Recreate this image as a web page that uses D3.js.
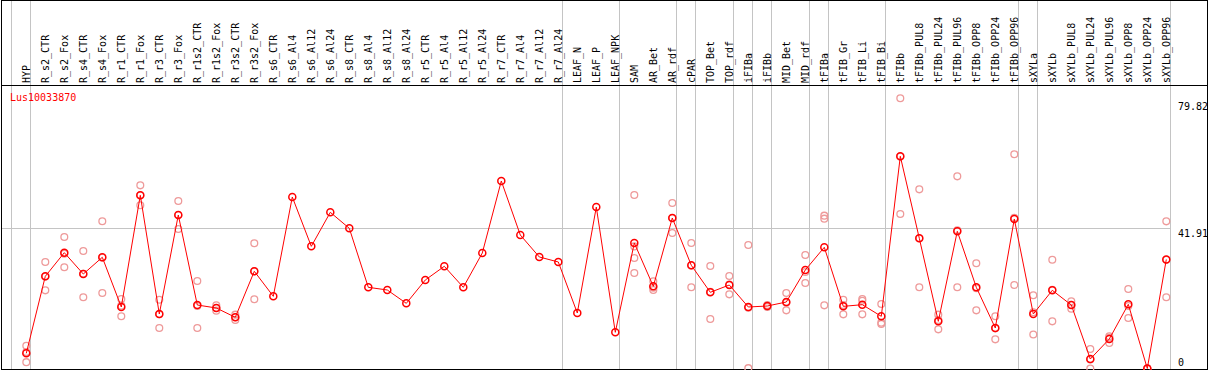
<!DOCTYPE html>
<html lang="en">
<head>
  <meta charset="UTF-8">
  <title>Lus10033870</title>
  <script src="https://cdn.jsdelivr.net/npm/d3@7/dist/d3.min.js"></script>
  <style>
    body { margin: 0; background: #fff; }
    text { font-family: "DejaVu Sans Mono", monospace; font-size: 10px; }
  </style>
</head>
<body>
  <svg></svg>
  <script>
    const width = 1209;
    const height = 370;

    const gene = "Lus10033870";

    const samples = [
      "HYP", "R_s2_CTR", "R_s2_Fox", "R_s4_CTR", "R_s4_Fox", "R_r1_CTR", "R_r1_Fox",
      "R_r3_CTR", "R_r3_Fox", "R_r1s2_CTR", "R_r1s2_Fox", "R_r3s2_CTR", "R_r3s2_Fox",
      "R_s6_CTR", "R_s6_Al4", "R_s6_Al12", "R_s6_Al24", "R_s8_CTR", "R_s8_Al4", "R_s8_Al12",
      "R_s8_Al24", "R_r5_CTR", "R_r5_Al4", "R_r5_Al12", "R_r5_Al24", "R_r7_CTR", "R_r7_Al4",
      "R_r7_Al12", "R_r7_Al24", "LEAF_N", "LEAF_P", "LEAF_NPK", "SAM", "AR_Bet", "AR_rdf",
      "cPAR", "TOP_Bet", "TOP_rdf", "iFIBa", "iFIBb", "MID_Bet", "MID_rdf", "tFIBa",
      "tFIB_Gr", "tFIB_Li", "tFIB_Bi", "tFIBb", "tFIBb_PUL8", "tFIBb_PUL24", "tFIBb_PUL96",
      "tFIBb_OPP8", "tFIBb_OPP24", "tFIBb_OPP96", "sXYLa", "sXYLb", "sXYLb_PUL8",
      "sXYLb_PUL24", "sXYLb_PUL96", "sXYLb_OPP8", "sXYLb_OPP24", "sXYLb_OPP96"
    ];

    // how many samples sit between two grey separators
    const groupSizes = [1, 28, 3, 3, 1, 2, 1, 1, 2, 1, 3, 7, 1, 7];

    const means = [
      4.54, 27.56, 34.63, 28.25, 33.24, 18.39, 51.77, 16.29, 45.89, 18.98, 18.09, 15.3, 29.06,
      21.58, 51.27, 36.52, 46.69, 41.91, 24.27, 23.47, 19.48, 26.46, 30.55, 24.27, 34.53,
      56.05, 39.91, 33.34, 31.84, 16.59, 48.27, 10.82, 37.52, 24.57, 44.99, 30.85, 22.78,
      24.96, 18.39, 18.68, 19.88, 29.45, 36.23, 18.58, 19.08, 15.6, 63.44, 38.92, 14.1,
      41.02, 24.27, 12.11, 44.69, 16.29, 23.37, 18.98, 2.84, 8.82, 19.18, 0, 32.6
    ];

    const replicates = [
      [6.8, 4.9, 1.9], [31.84, 27.47, 23.37], [39.31, 34.33, 30.25], [35.13, 28.34, 21.28],
      [44.0, 33.15, 22.57], [20.78, 18.79, 15.6], [54.75, 51.77, 48.79], [20.57, 16.2, 12.11],
      [50.08, 45.9, 41.7], [26.16, 18.67, 12.11], [18.9, 18.1, 17.3], [16.1, 15.3, 14.5],
      [37.43, 29.06, 20.69],
      [], [], [], [], [], [], [], [], [], [], [], [], [], [], [], [], [], [], [],
      [51.87, 36.5, 33.04, 28.55], [26.07, 24.17, 23.47], [49.48, 45.0, 40.51],
      [37.52, 30.76, 24.27], [30.65, 22.9, 14.8], [27.65, 25.06, 22.17], [36.92, 18.15, 0.1],
      [19.0, 18.4, 18.6], [22.57, 19.68, 17.39], [33.93, 28.86, 25.56], [45.69, 44.8, 18.88],
      [20.57, 19.0, 16.19], [20.78, 20.27, 16.19], [19.28, 13.7, 13.3], [80.78, 63.35, 46.19],
      [53.56, 38.93, 24.27], [16.1, 14.5, 11.7], [57.45, 41.3, 24.27], [31.45, 23.97, 17.39],
      [15.6, 12.0, 8.72], [64.07, 45.04, 24.96], [21.88, 16.83, 10.16], [32.49, 23.52, 14.1],
      [20.08, 19.0, 17.88], [5.83, 2.7, 0], [9.62, 9.2, 7.62], [23.77, 18.7, 15.1],
      [0, 0, 0], [43.99, 32.5, 21.28]
    ];

    const yTicks = [0, 41.91, 79.82];

    const headerBottom = 85.5;
    const plotRight = 1170.5;

    const x = d3.scaleBand()
      .domain(samples)
      .range([11.5, 11.5 + samples.length * 19])
      .paddingInner(0);
    const pointX = d => x(d) + 14.8;

    const y = d3.scaleLinear()
      .domain([0, 79.82])
      .range([368.5, 101.5]);

    const svg = d3.select("svg")
      .attr("width", width)
      .attr("height", height);

    // separator positions: before the first column, then after each group
    const sepX = [x(samples[0])];
    let idx = 0;
    groupSizes.forEach(n => {
      idx += n;
      sepX.push(x(samples[idx - 1]) + x.bandwidth());
    });

    svg.append("g")
      .selectAll("line")
      .data(sepX)
      .join("line")
      .attr("x1", d => Math.round(d) - 0.5)
      .attr("x2", d => Math.round(d) - 0.5)
      .attr("y1", 0)
      .attr("y2", 369)
      .attr("stroke", "#c4c4c4")
      .attr("stroke-width", 1);

    // horizontal guide at the middle tick
    svg.append("line")
      .attr("x1", 1)
      .attr("x2", plotRight)
      .attr("y1", Math.round(y(yTicks[1])) + 0.5)
      .attr("y2", Math.round(y(yTicks[1])) + 0.5)
      .attr("stroke", "#c4c4c4");

    // frame + header rule
    svg.append("rect")
      .attr("x", 1.5).attr("y", 0.5)
      .attr("width", 1206).attr("height", 369)
      .attr("fill", "none")
      .attr("stroke", "#000");
    svg.append("line")
      .attr("x1", 1).attr("x2", 1208)
      .attr("y1", headerBottom).attr("y2", headerBottom)
      .attr("stroke", "#000");

    // column labels
    svg.append("g")
      .selectAll("text")
      .data(samples)
      .join("text")
      .attr("transform", d => `translate(${x(d) + 18.2},83)rotate(-90)`)
      .attr("fill", "#000")
      .text(d => d);

    svg.append("text")
      .attr("x", 10)
      .attr("y", 101)
      .attr("fill", "#ff0000")
      .text(gene);

    // y labels on the right
    const labelBaseline = [366, 237, 110];
    svg.append("g")
      .selectAll("text")
      .data(yTicks)
      .join("text")
      .attr("x", 1178)
      .attr("y", (d, i) => labelBaseline[i])
      .attr("fill", "#000")
      .text(d => d === 0 ? "0" : d.toFixed(2));

    // replicate circles
    const repData = [];
    samples.forEach((s, i) => replicates[i].forEach(v => repData.push({ s, v })));

    svg.append("g")
      .selectAll("circle")
      .data(repData)
      .join("circle")
      .attr("cx", d => pointX(d.s))
      .attr("cy", d => y(d.v))
      .attr("r", 3.4)
      .attr("fill", "none")
      .attr("stroke", "#ee9a9a")
      .attr("stroke-width", 1.3);

    // mean profile
    const line = d3.line()
      .x((d, i) => pointX(samples[i]))
      .y(d => y(d));

    svg.append("path")
      .datum(means)
      .attr("d", line)
      .attr("fill", "none")
      .attr("stroke", "#ff0000")
      .attr("stroke-width", 1);

    svg.append("g")
      .selectAll("circle")
      .data(means)
      .join("circle")
      .attr("cx", (d, i) => pointX(samples[i]))
      .attr("cy", d => y(d))
      .attr("r", 3.5)
      .attr("fill", "none")
      .attr("stroke", "#ff0000")
      .attr("stroke-width", 1.5);
  </script>
</body>
</html>
